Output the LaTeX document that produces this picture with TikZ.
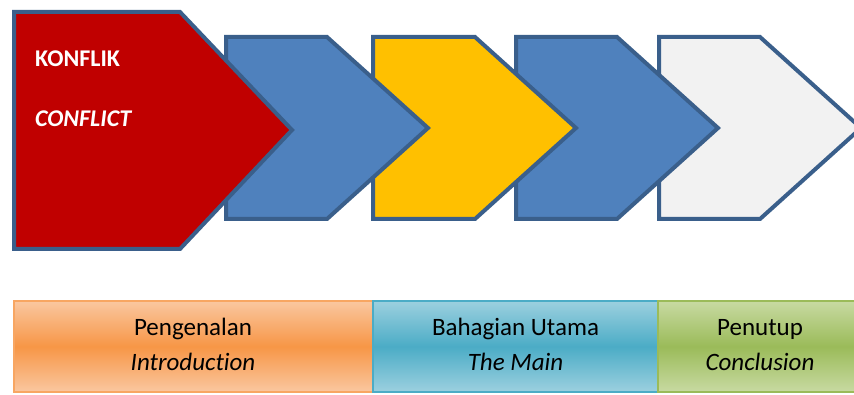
\documentclass[tikz,border=0pt]{standalone}
\usepackage{fontspec}
\setmainfont{Carlito}[Ligatures=NoCommon]
\definecolor{outl}{HTML}{3A5F8B}
\definecolor{cblue}{HTML}{4F81BD}
\definecolor{cred}{HTML}{C00000}
\definecolor{cyel}{HTML}{FFC000}
\definecolor{cgray}{HTML}{F2F2F2}
\definecolor{orT}{HTML}{FAC7A0}
\definecolor{orM}{HTML}{F79646}
\definecolor{blT}{HTML}{9CD0DF}
\definecolor{blM}{HTML}{4BACC6}
\definecolor{grT}{HTML}{C8DAA2}
\definecolor{grM}{HTML}{9BBB59}
\tikzset{
  arrowshape/.style={draw=outl, line width=4pt, line join=miter},
  bandbox/.style={line width=2pt},
  hdtext/.style={text=white, font=\fontsize{24}{28}\selectfont\bfseries, anchor=base west, inner sep=0pt},
  bandtext/.style={text=black, font=\fontsize{25}{29}\selectfont, anchor=base, inner sep=0pt}
}
\begin{document}
\begin{tikzpicture}[x=1pt,y=-1pt]
\useasboundingbox (0,0) rectangle (854,395);
\begin{scope}
\clip (0,0) rectangle (854,395);
% pentagons, drawn back to front
\draw[arrowshape, fill=cgray] (659,37) -- (760,37) -- (861,128) -- (760,219) -- (659,219) -- cycle;
\draw[arrowshape, fill=cblue] (516,37) -- (617,37) -- (718,128) -- (617,219) -- (516,219) -- cycle;
\draw[arrowshape, fill=cyel] (373,37) -- (475,37) -- (576,128) -- (475,219) -- (373,219) -- cycle;
\draw[arrowshape, fill=cblue] (226,37) -- (327,37) -- (428,128) -- (327,219) -- (226,219) -- cycle;
\draw[arrowshape, fill=cred] (14,12) -- (180,12) -- (292,130) -- (180,249) -- (14,249) -- cycle;
% bottom band
\draw[bandbox, draw=orM!85!white, top color=orT, bottom color=orT, middle color=orM] (14,301) rectangle (373,392);
\draw[bandbox, draw=blM, top color=blT, bottom color=blT, middle color=blM] (373,301) rectangle (658,392);
\draw[bandbox, draw=grM, top color=grT, bottom color=grT, middle color=grM] (658,301) rectangle (864,392);
\end{scope}
\node[hdtext] (konflik) at (35,67) {KONFLIK};
\node[hdtext] (conflict) at (35,127) {\itshape CONFLICT};
\node[bandtext] (intro1) at (193,335) {Pengenalan};
\node[bandtext] (intro2) at (193,370) {\itshape Introduction};
\node[bandtext] (main1) at (515.5,335) {Bahagian Utama};
\node[bandtext] (main2) at (515.5,370) {\itshape The Main};
\node[bandtext] (conc1) at (760,335) {Penutup};
\node[bandtext] (conc2) at (760,370) {\itshape Conclusion};
\end{tikzpicture}
\end{document}
